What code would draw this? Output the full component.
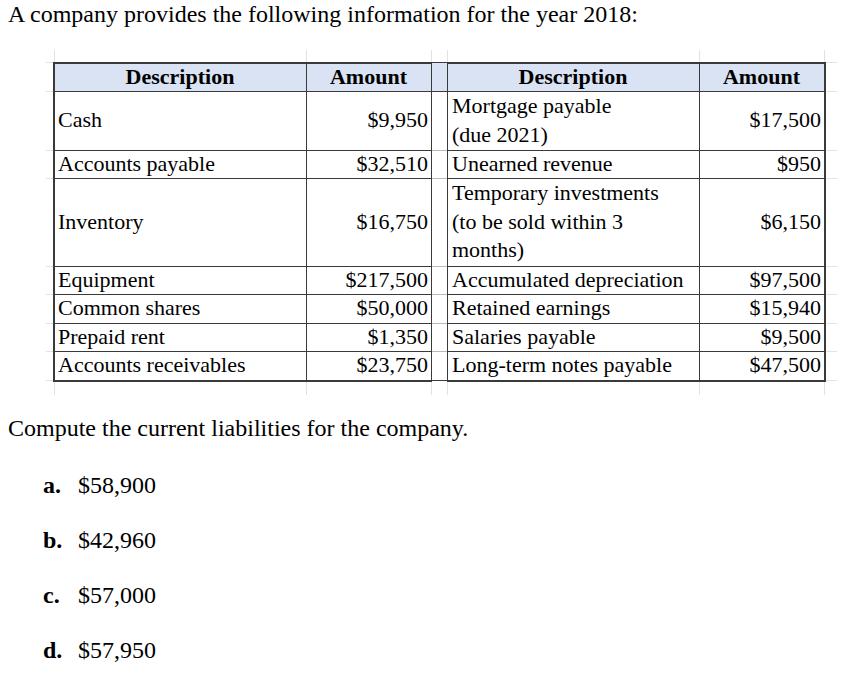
import React from "react";

// question text
const title = "A company provides the following information for the year 2018:";
const question = "Compute the current liabilities for the company.";
const optionLetters = ["a.", "b.", "c.", "d."];
const optionValues = ["$58,900", "$42,960", "$57,000", "$57,950"];

// table
const headers = ["Description", "Amount", "Description", "Amount"];
const leftDescriptions = [
  "Cash",
  "Accounts payable",
  "Inventory",
  "Equipment",
  "Common shares",
  "Prepaid rent",
  "Accounts receivables",
];
const leftAmounts = ["$9,950", "$32,510", "$16,750", "$217,500", "$50,000", "$1,350", "$23,750"];
const rightDescriptions = [
  "Mortgage payable\n(due 2021)",
  "Unearned revenue",
  "Temporary investments\n(to be sold within 3\nmonths)",
  "Accumulated depreciation",
  "Retained earnings",
  "Salaries payable",
  "Long-term notes payable",
];
const rightAmounts = ["$17,500", "$950", "$6,150", "$97,500", "$15,940", "$9,500", "$47,500"];

const FONT = "'Liberation Serif', 'Times New Roman', serif";
const BORDER = "#3a3a3a";
const GRID = "#e2e2e2";
const HEADER_BG = "#dae3f3";

// column edges: desc | amount || gap || desc | amount
const colX = [54, 306, 431, 447, 699, 824];
const rowY = [62, 91, 150, 178, 266, 294, 323, 351, 380];

function Cell({
  x1,
  x2,
  y1,
  y2,
  text,
  align,
  bold,
}: {
  x1: number;
  x2: number;
  y1: number;
  y2: number;
  text: string;
  align: "left" | "right" | "center";
  bold?: boolean;
}) {
  return (
    <div
      style={{
        position: "absolute",
        left: x1,
        top: y1,
        width: x2 - x1,
        height: y2 - y1,
        display: "flex",
        flexDirection: "column",
        justifyContent: "center",
        boxSizing: "border-box",
        paddingLeft: align === "left" ? (x1 > 400 ? 5 : 4) : 0,
        paddingRight: align === "right" ? 3 : 0,
        paddingTop: bold ? 2 : 0,
        textAlign: align,
        fontFamily: FONT,
        fontSize: 22,
        lineHeight: "28.8px",
        fontWeight: bold ? 700 : 400,
        whiteSpace: "pre-line",
        color: "#000",
      }}
    >
      {text}
    </div>
  );
}

function Line({ x, y, w, h, c }: { x: number; y: number; w: number; h: number; c: string }) {
  return <div style={{ position: "absolute", left: x, top: y, width: w, height: h, background: c }} />;
}

export default function App() {
  const top = rowY[0];
  const bottom = rowY[rowY.length - 1];
  const bodyRows = leftDescriptions.map((_, i) => i);

  return (
    <div
      style={{
        position: "absolute",
        left: 0,
        top: 0,
        width: 841,
        height: 677,
        background: "#fff",
        overflow: "hidden",
        fontFamily: FONT,
        color: "#000",
      }}
    >
      <div style={{ position: "absolute", left: 8, top: 2, fontSize: 24, lineHeight: "24px", whiteSpace: "nowrap" }}>
        {title}
      </div>

      {/* faint spreadsheet gridlines around the table */}
      {colX.map((x, i) => (
        <React.Fragment key={"gv" + i}>
          <Line x={x} y={50} w={1} h={top - 50} c={GRID} />
          <Line x={x} y={bottom} w={1} h={15} c={GRID} />
        </React.Fragment>
      ))}
      {rowY.map((y, i) => (
        <React.Fragment key={"gh" + i}>
          <Line x={46} y={y} w={8} h={1} c={GRID} />
          <Line x={825} y={y} w={12} h={1} c={GRID} />
        </React.Fragment>
      ))}

      {/* header band */}
      <div
        style={{
          position: "absolute",
          left: colX[0],
          top: rowY[0],
          width: colX[5] - colX[0],
          height: rowY[1] - rowY[0],
          background: HEADER_BG,
        }}
      />
      <Cell x1={colX[0]} x2={colX[1]} y1={rowY[0]} y2={rowY[1]} text={headers[0]} align="center" bold />
      <Cell x1={colX[1]} x2={colX[2]} y1={rowY[0]} y2={rowY[1]} text={headers[1]} align="center" bold />
      <Cell x1={colX[3]} x2={colX[4]} y1={rowY[0]} y2={rowY[1]} text={headers[2]} align="center" bold />
      <Cell x1={colX[4]} x2={colX[5]} y1={rowY[0]} y2={rowY[1]} text={headers[3]} align="center" bold />

      {bodyRows.map((i) => (
        <React.Fragment key={"r" + i}>
          <Cell x1={colX[0]} x2={colX[1]} y1={rowY[i + 1]} y2={rowY[i + 2]} text={leftDescriptions[i]} align="left" />
          <Cell x1={colX[1]} x2={colX[2]} y1={rowY[i + 1]} y2={rowY[i + 2]} text={leftAmounts[i]} align="right" />
          <Cell x1={colX[3]} x2={colX[4]} y1={rowY[i + 1]} y2={rowY[i + 2]} text={rightDescriptions[i]} align="left" />
          <Cell x1={colX[4]} x2={colX[5]} y1={rowY[i + 1]} y2={rowY[i + 2]} text={rightAmounts[i]} align="right" />
        </React.Fragment>
      ))}

      {/* row borders */}
      {rowY.map((y, i) => {
        const outer = i === 0 || i === rowY.length - 1;
        return (
          <React.Fragment key={"h" + i}>
            <Line x={colX[0]} y={y} w={colX[2] - colX[0]} h={outer ? 2 : 1} c={BORDER} />
            <Line x={colX[2]} y={y} w={colX[3] - colX[2]} h={1} c={i <= 1 || outer ? BORDER : "#b8b8b8"} />
            <Line x={colX[3]} y={y} w={colX[5] - colX[3] + 1} h={outer ? 2 : 1} c={BORDER} />
          </React.Fragment>
        );
      })}
      {/* column borders */}
      {colX.map((x, i) => (
        <Line
          key={"v" + i}
          x={i === 0 ? x - 1 : x}
          y={top}
          w={i === 0 || i === colX.length - 1 ? 2 : 1}
          h={bottom - top + 2}
          c={BORDER}
        />
      ))}

      <div style={{ position: "absolute", left: 8, top: 416, fontSize: 24, lineHeight: "24px", whiteSpace: "nowrap" }}>
        {question}
      </div>

      {optionLetters.map((letter, i) => (
        <div
          key={letter}
          style={{
            position: "absolute",
            left: 43,
            top: 473 + i * 55,
            fontSize: 24,
            lineHeight: "24px",
            whiteSpace: "nowrap",
          }}
        >
          <span style={{ fontWeight: 700, display: "inline-block", width: 35 }}>{letter}</span>
          <span>{optionValues[i]}</span>
        </div>
      ))}
    </div>
  );
}
